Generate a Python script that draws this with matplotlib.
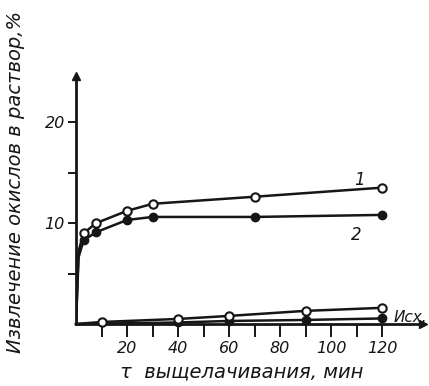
import numpy as np
import matplotlib
matplotlib.use("Agg")
import matplotlib.pyplot as plt

# Leaching time, min, and extraction of oxides into solution, %
t_upper = [3, 8, 20, 30, 70, 120]
curve1 = [9.0, 10.0, 11.2, 11.9, 12.6, 13.5]      # open circles, "1"
curve2 = [8.3, 9.1, 10.3, 10.6, 10.6, 10.8]       # filled circles, "2"

# steep initial rise from the origin (unmarked part of the curves)
t_start = [0, 1]
curve1_start = [0, 7.2]
curve2_start = [0, 6.6]

# initial material ("Исх.")
t_low_open = [10, 40, 60, 90, 120]
low_open = [0.2, 0.5, 0.8, 1.3, 1.6]
t_low_filled = [40, 60, 90, 120]
low_filled = [0.15, 0.3, 0.4, 0.55]

x_ticks = list(range(10, 130, 10))
x_labels = [20, 40, 60, 80, 100, 120]
y_ticks = [5, 10, 15, 20]
y_labels = [10, 20]

ink = "#161616"
W, H = 429, 386
fig = plt.figure(figsize=(W / 100, H / 100), dpi=100)
fig.patch.set_facecolor("white")

# axes placed in pixel terms: origin at (76, 324)
x0, y0 = 76, 324
px_x, px_y = 2.55, 10.1
xmax, ymax = 136, 24.6
ax = fig.add_axes([x0 / W, (H - y0) / H, xmax * px_x / W, ymax * px_y / H])
ax.set_xlim(0, xmax)
ax.set_ylim(0, ymax)
ax.patch.set_alpha(0)
for s in ["top", "right"]:
    ax.spines[s].set_visible(False)
for s in ["left", "bottom"]:
    ax.spines[s].set_linewidth(2.0)
    ax.spines[s].set_color(ink)

# arrow heads on the axes
ax.plot(1, 0, ">", transform=ax.transAxes, color=ink, ms=6, clip_on=False)
ax.plot(0, 1, "^", transform=ax.transAxes, color=ink, ms=6, clip_on=False)

ax.set_xticks(x_ticks)
ax.set_xticklabels([str(v) if v in x_labels else "" for v in x_ticks])
ax.set_yticks(y_ticks)
ax.set_yticklabels([str(v) if v in y_labels else "" for v in y_ticks])
ax.tick_params(axis="x", direction="out", length=9, width=1.4, color=ink, pad=3)
ax.tick_params(axis="y", direction="out", length=6, width=1.4, color=ink, pad=2)
for lab in ax.get_xticklabels() + ax.get_yticklabels():
    lab.set_fontstyle("italic")
    lab.set_fontsize(11.5)
    lab.set_color(ink)
    lab.set_family("DejaVu Sans")

lw = 1.8
ms = 6.0
# upper curves
ax.plot(t_start + t_upper, curve2_start + curve2, color=ink, lw=lw, zorder=3)
ax.plot(t_upper, curve2, "o", color=ink, ms=ms, mfc=ink, mec=ink, zorder=4)
ax.plot(t_start + t_upper, curve1_start + curve1, color=ink, lw=lw, zorder=3)
ax.plot(t_upper, curve1, "o", color=ink, ms=ms, mfc="white", mec=ink, mew=1.5, zorder=5)

# lower curves
ax.plot([0] + t_low_filled, [0] + low_filled, color=ink, lw=lw, zorder=3, clip_on=False)
ax.plot(t_low_filled, low_filled, "o", color=ink, ms=ms, mfc=ink, mec=ink, zorder=4, clip_on=False)
ax.plot([0] + t_low_open, [0] + low_open, color=ink, lw=lw, zorder=3, clip_on=False)
ax.plot(t_low_open, low_open, "o", color=ink, ms=ms, mfc="white", mec=ink, mew=1.5, zorder=5, clip_on=False)

txt = dict(color=ink, fontstyle="italic", family="DejaVu Sans")
ax.text(111, 14.3, "1", fontsize=12, ha="center", va="center", **txt)
ax.text(110, 8.8, "2", fontsize=12, ha="center", va="center", **txt)
ax.text(124.5, 0.6, "Исх.", fontsize=11, ha="left", va="center", clip_on=False, **txt)

fig.text(242 / W, 1 - 372 / H, "τ  выщелачивания, мин", fontsize=14,
         ha="center", va="center", **txt)
fig.text(16 / W, 1 - 182 / H, "Извлечение окислов в раствор,%", fontsize=14,
         rotation=90, ha="center", va="center", **txt)

fig.savefig("out.png", dpi=100, facecolor="white")
